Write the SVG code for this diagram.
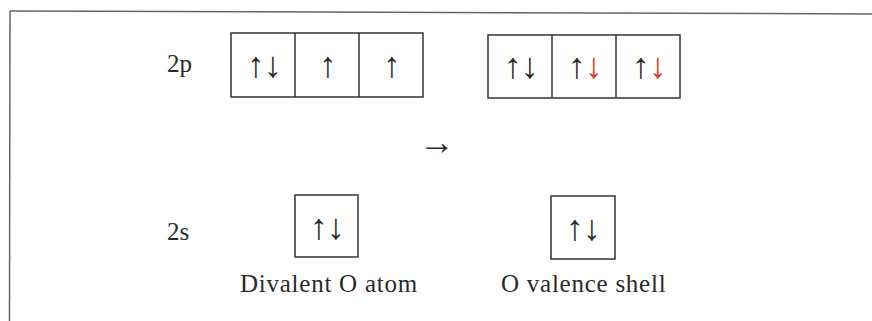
<svg xmlns="http://www.w3.org/2000/svg" width="872" height="321" viewBox="0 0 872 321">
<style>
.frame{stroke:#666;stroke-width:1.5;fill:none}
.box{stroke:#333;stroke-width:1.5;fill:none}
.lbl{font-family:"Liberation Serif","Times New Roman",serif;font-size:25px;fill:#2a2a2a}
.cap{letter-spacing:0.75px}
.arr{font-family:"Liberation Serif","Times New Roman",serif;font-size:36px;fill:#2a2a2a;text-anchor:middle}
.pair{letter-spacing:-1px}
.red{fill:#d9402a}
</style>
<rect width="872" height="321" fill="#fff"/>
<g id="frame">
<line class="frame" x1="10" y1="11" x2="872" y2="14"/>
<line class="frame" x1="10" y1="11" x2="9.5" y2="321"/>
</g>
<g id="label-2p"><text class="lbl" x="167" y="72">2p</text></g>
<g id="label-2s"><text class="lbl" x="167" y="240">2s</text></g>
<g id="divalent-2p">
<rect class="box" x="231" y="33" width="192" height="64"/>
<line class="box" x1="295" y1="33" x2="295" y2="97"/>
<line class="box" x1="359" y1="33" x2="359" y2="97"/>
<text class="arr pair" x="264" y="77">↑↓</text>
<text class="arr" x="328" y="77">↑</text>
<text class="arr" x="392" y="77">↑</text>
</g>
<g id="valence-2p">
<rect class="box" x="488" y="35" width="192" height="63"/>
<line class="box" x1="552" y1="35" x2="552" y2="98"/>
<line class="box" x1="616" y1="35" x2="616" y2="98"/>
<text class="arr pair" x="521" y="78">↑↓</text>
<text class="arr pair" x="585" y="78">↑<tspan class="red">↓</tspan></text>
<text class="arr pair" x="649" y="78">↑<tspan class="red">↓</tspan></text>
</g>
<g id="divalent-2s">
<rect class="box" x="295" y="195" width="63" height="62"/>
<text class="arr pair" x="327" y="239">↑↓</text>
<text class="lbl cap" x="240" y="292">Divalent O atom</text>
</g>
<g id="valence-2s">
<rect class="box" x="551" y="196" width="64" height="63"/>
<text class="arr pair" x="583" y="240">↑↓</text>
<text class="lbl cap" x="501" y="292">O valence shell</text>
</g>
<g id="connectors">
<text class="arr" x="437" y="154">→</text>
</g>
</svg>
